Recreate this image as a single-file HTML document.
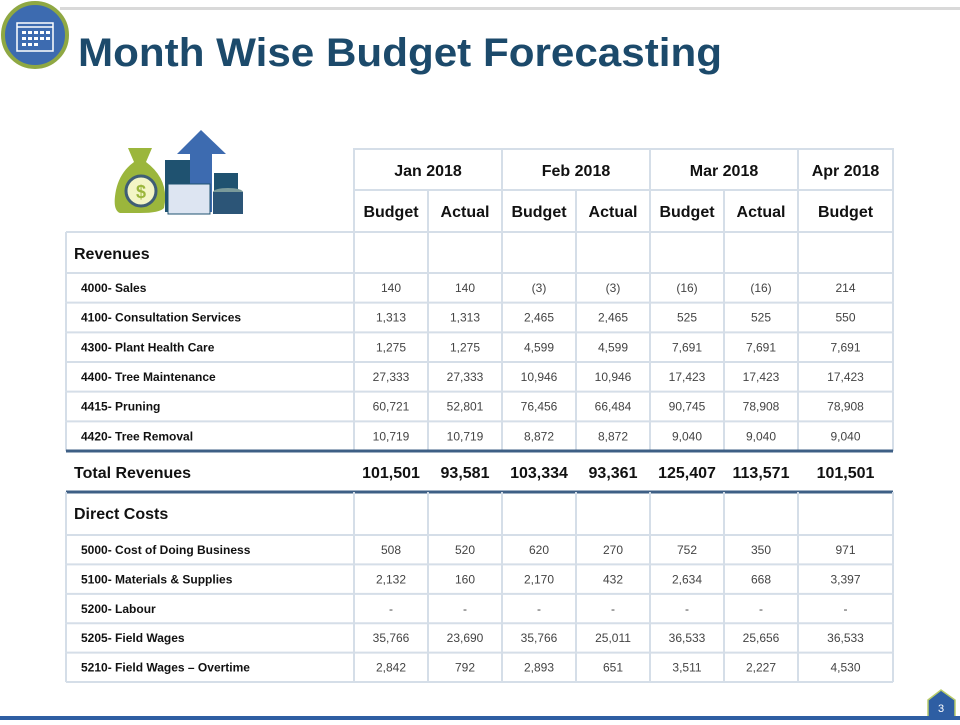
<!DOCTYPE html>
<html><head><meta charset="utf-8"><style>
body{margin:0;background:#fff;width:960px;height:720px;overflow:hidden;font-family:"Liberation Sans",sans-serif}
</style></head><body>
<svg id="s" width="960" height="720" viewBox="0 0 960 720" xmlns="http://www.w3.org/2000/svg">
<rect x="60" y="7" width="900" height="3" fill="#d9d9d9"/>
<g>
<circle cx="35" cy="35" r="32" fill="#3d6bb0" stroke="#8fa843" stroke-width="4"/>
<rect x="17" y="23" width="36" height="28" fill="none" stroke="#fff" stroke-width="1.5"/>
<line x1="17" y1="27" x2="53" y2="27" stroke="#fff" stroke-width="1.5"/>
<g fill="#fff"><rect x="22" y="31" width="4" height="3"/><rect x="28" y="31" width="4" height="3"/><rect x="34" y="31" width="4" height="3"/><rect x="40" y="31" width="4" height="3"/><rect x="46" y="31" width="4" height="3"/>
<rect x="22" y="37" width="4" height="3"/><rect x="28" y="37" width="4" height="3"/><rect x="34" y="37" width="4" height="3"/><rect x="40" y="37" width="4" height="3"/><rect x="46" y="37" width="4" height="3"/>
<rect x="22" y="43" width="4" height="3"/><rect x="28" y="43" width="4" height="3"/><rect x="34" y="43" width="4" height="3"/></g>
</g>
<text x="78" y="66" font-size="40" font-weight="bold" fill="#1c4a6b" textLength="644" lengthAdjust="spacingAndGlyphs">Month Wise Budget Forecasting</text>
<g>
<path d="M128 148 L152 148 L146 162 Q170 180 164 208 Q160 213 140 213 L120 213 Q112 210 116 190 Q120 172 134 162 Z" fill="#9bb63c"/>
<circle cx="141" cy="191" r="15" fill="#f3f5c6" stroke="#3f5e75" stroke-width="3"/>
<text x="141" y="198" font-size="18" font-weight="bold" text-anchor="middle" fill="#9bb63c">$</text>
<rect x="165" y="160" width="25" height="52" fill="#1f5270"/>
<rect x="214" y="173" width="24" height="40" fill="#1f5270"/>
<path d="M201 130 L226 154 L212 154 L212 212 L190 212 L190 154 L177 154 Z" fill="#3d6bb0"/>
<rect x="168" y="184" width="42" height="30" fill="#dde5f2" stroke="#1f5270"/>
<ellipse cx="228" cy="192" rx="15" ry="4" fill="#7a9a9a"/>
<rect x="213" y="192" width="30" height="22" fill="#2c5577"/>
</g>
<g id="tbl"></g>
<g>
<path d="M928 700 L941 690 L955 700 L955 720 L928 720 Z" fill="#2e5ea3" stroke="#b8cc6a" stroke-width="1.5"/>
<text x="941" y="712" font-size="11" fill="#fff" text-anchor="middle">3</text>
</g>
<rect x="0" y="716" width="960" height="4" fill="#2e5ea3"/>
</svg>
<script>
const months = ["Jan 2018","Feb 2018","Mar 2018","Apr 2018"];
const subHeaders = ["Budget","Actual","Budget","Actual","Budget","Actual","Budget"];
const revenueLabels = ["4000- Sales","4100- Consultation Services","4300- Plant Health Care","4400- Tree Maintenance","4415- Pruning","4420- Tree Removal"];
const revenueValues = [
 ["140","140","(3)","(3)","(16)","(16)","214"],
 ["1,313","1,313","2,465","2,465","525","525","550"],
 ["1,275","1,275","4,599","4,599","7,691","7,691","7,691"],
 ["27,333","27,333","10,946","10,946","17,423","17,423","17,423"],
 ["60,721","52,801","76,456","66,484","90,745","78,908","78,908"],
 ["10,719","10,719","8,872","8,872","9,040","9,040","9,040"]];
const totalRevenues = ["101,501","93,581","103,334","93,361","125,407","113,571","101,501"];
const costLabels = ["5000- Cost of Doing Business","5100- Materials & Supplies","5200- Labour","5205- Field Wages","5210- Field Wages – Overtime"];
const costValues = [
 ["508","520","620","270","752","350","971"],
 ["2,132","160","2,170","432","2,634","668","3,397"],
 ["-","-","-","-","-","-","-"],
 ["35,766","23,690","35,766","25,011","36,533","25,656","36,533"],
 ["2,842","792","2,893","651","3,511","2,227","4,530"]];

const NS="http://www.w3.org/2000/svg";
const g=document.getElementById('tbl');
const colX=[66,354,428,502,576,650,724,798,893];
const BC="#d5dee8";
function mk(t,a,txt){const e=document.createElementNS(NS,t);for(const k in a)e.setAttribute(k,a[k]);if(txt!==undefined)e.textContent=txt;g.appendChild(e);return e;}
function line(x1,y1,x2,y2,c,w){const e=mk('line',{x1,y1,x2,y2,stroke:c,'stroke-width':w});

}
function txt(x,y,s,o,name){const e=mk('text',Object.assign({x,y},o),s);

}
const mSpan=[[1,3],[3,5],[5,7],[7,8]];
line(354,149,893,149,BC,2);line(354,190,893,190,BC,2);
months.forEach((m,i)=>{const a=colX[mSpan[i][0]],b=colX[mSpan[i][1]];
 txt((a+b)/2,176,m,{'font-size':16,'font-weight':'bold','text-anchor':'middle',fill:'#111'},'month-header');});
subHeaders.forEach((h,i)=>txt((colX[i+1]+colX[i+2])/2,217,h,{'font-size':16,'font-weight':'bold','text-anchor':'middle',fill:'#111'},'column-header'));
[354,502,650,798,893].forEach(x=>line(x,148,x,190,BC,2));
colX.slice(1).forEach(x=>line(x,190,x,232,BC,2));
let rows=[];let y=232;
rows.push({type:'sec',label:'Revenues',h:41});
revenueLabels.forEach((l,i)=>rows.push({type:'row',label:l,vals:revenueValues[i],h:29.67}));
rows.push({type:'tot',label:'Total Revenues',vals:totalRevenues,h:41});
rows.push({type:'sec',label:'Direct Costs',h:43});
costLabels.forEach((l,i)=>rows.push({type:'row',label:l,vals:costValues[i],h:29.4}));
line(66,232,893,232,BC,2);
rows.forEach(r=>{
 const y0=y,y1=y+r.h;
 if(r.type==='tot'){
  line(66,y0,893,y0,'#3e5f85',3);
  txt(74,y0+27,r.label,{'font-size':16,'font-weight':'bold',fill:'#111'},'total-label');
  r.vals.forEach((v,i)=>txt((colX[i+1]+colX[i+2])/2,y0+27,v,{'font-size':16,'font-weight':'bold','text-anchor':'middle',fill:'#111'},'total-value'));
  line(66,y1,893,y1,'#3e5f85',3);
 } else {
  if(r.type==='sec') txt(74,y0+27,r.label,{'font-size':16,'font-weight':'bold',fill:'#111'},'section-label');
  else {
   txt(81,y0+19,r.label,{'font-size':12,'font-weight':'bold',fill:'#111'},'row-label');
   r.vals.forEach((v,i)=>txt((colX[i+1]+colX[i+2])/2,y0+19,v,{'font-size':12,'text-anchor':'middle',fill:'#444'},'cell-value'));
  }
  colX.forEach(x=>line(x,y0,x,y1,BC,2));
  if(rows[rows.indexOf(r)+1]?.type!=='tot') line(66,y1,893,y1,BC,2);
 }
 y=y1;
});
</script>
</body></html>
